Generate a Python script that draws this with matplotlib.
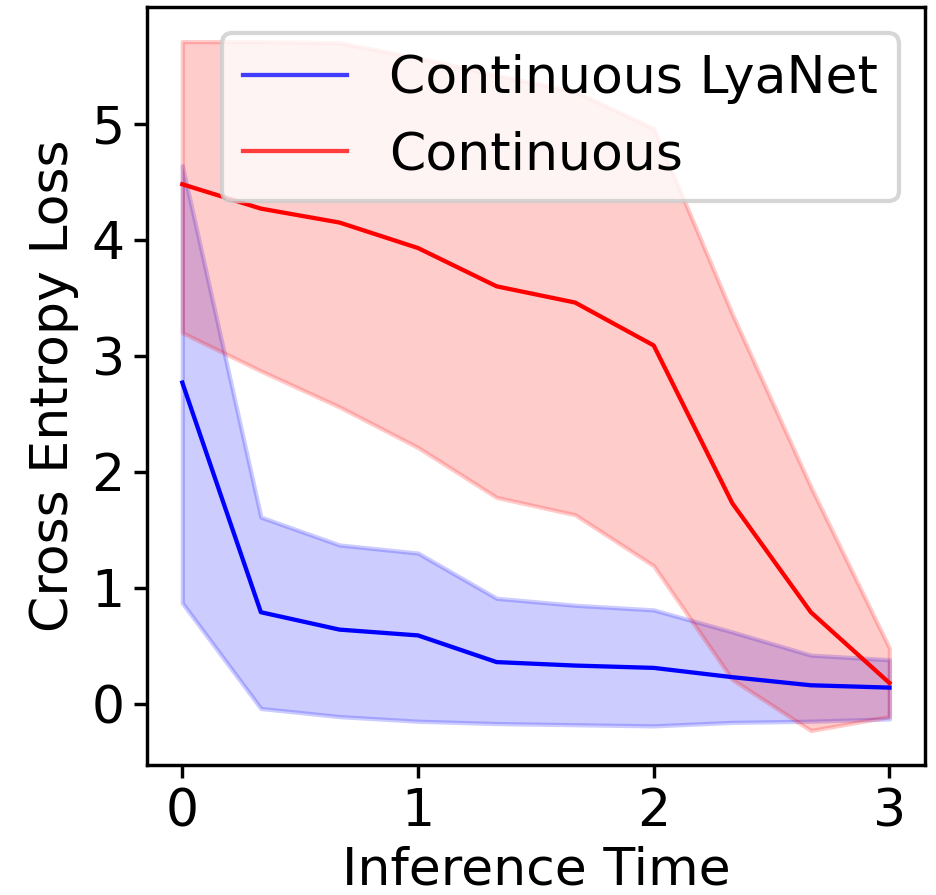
import matplotlib
matplotlib.use("Agg")
import matplotlib.pyplot as plt

# inference time steps
t = [0, 1/3, 2/3, 1, 4/3, 5/3, 2, 7/3, 8/3, 3]

lya_mean = [2.77, 0.79, 0.64, 0.59, 0.36, 0.33, 0.31, 0.23, 0.16, 0.14]
lya_upper = [4.64, 1.61, 1.37, 1.30, 0.91, 0.85, 0.81, 0.62, 0.42, 0.38]
lya_lower = [0.87, -0.04, -0.11, -0.15, -0.17, -0.18, -0.19, -0.16, -0.15, -0.13]

cont_mean = [4.48, 4.27, 4.15, 3.93, 3.60, 3.46, 3.09, 1.73, 0.79, 0.18]
cont_upper = [5.71, 5.71, 5.70, 5.57, 5.42, 5.28, 4.96, 3.36, 1.87, 0.48]
cont_lower = [3.20, 2.87, 2.56, 2.21, 1.78, 1.63, 1.19, 0.21, -0.23, -0.11]

plt.rcParams['font.size'] = 12.2

fig = plt.figure(figsize=(936/308, 895/308), dpi=308)
ax = fig.add_axes([0.157, 0.1453, 0.988 - 0.157, 0.992 - 0.1453])

ax.plot(t, lya_mean, color='blue', lw=1, label='Continuous LyaNet')
ax.fill_between(t, lya_lower, lya_upper, color='blue', alpha=0.2)
ax.plot(t, cont_mean, color='red', lw=1, label='Continuous')
ax.fill_between(t, cont_lower, cont_upper, color='red', alpha=0.2)

ax.set_xlabel('Inference Time', labelpad=2)
ax.set_ylabel('Cross Entropy Loss', labelpad=3)
ax.set_xticks([0, 1, 2, 3])
ax.set_yticks([0, 1, 2, 3, 4, 5])
ax.tick_params(length=3, pad=2.2)

leg = ax.legend(loc='upper right')
for ln in leg.get_lines():
    ln.set_alpha(0.75)

fig.savefig('out.png', dpi=308)
